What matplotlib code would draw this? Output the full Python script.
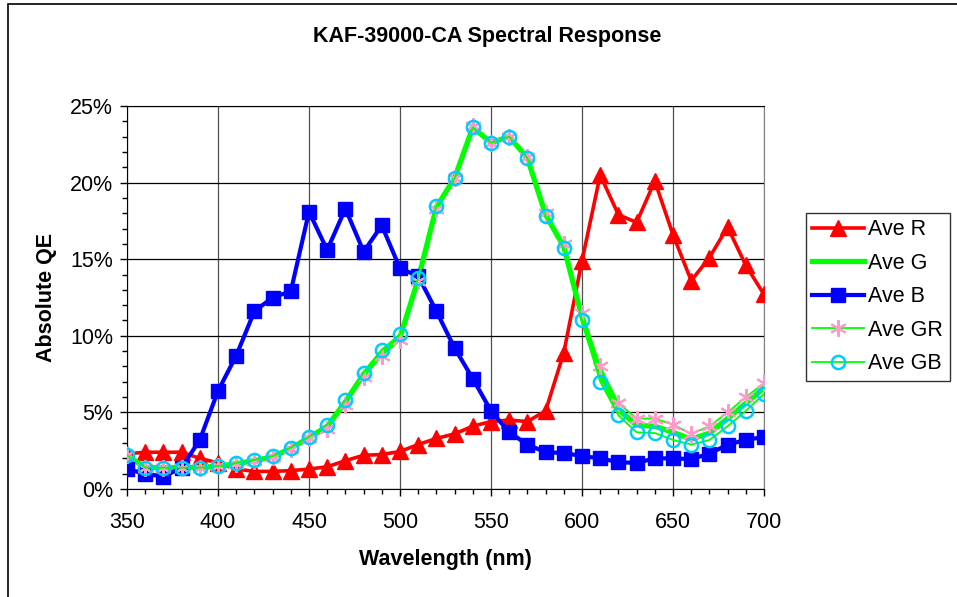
import matplotlib
matplotlib.use("Agg")
import matplotlib.pyplot as plt
from matplotlib.ticker import MultipleLocator, PercentFormatter
from matplotlib.patches import Rectangle

plt.rcParams['font.family'] = ['Liberation Sans', 'DejaVu Sans']

# wavelength grid (nm)
wavelength = list(range(350, 701, 10))

# absolute QE in percent
ave_r = [2.3, 2.4, 2.4, 2.4, 2.0, 1.7, 1.3, 1.15, 1.15, 1.2,
         1.3, 1.45, 1.85, 2.2, 2.25, 2.45, 2.9, 3.3, 3.6, 4.1,
         4.4, 4.5, 4.4, 5.1, 8.9, 14.9, 20.5, 17.9, 17.4, 20.1,
         16.6, 13.6, 15.1, 17.1, 14.6, 12.7]
ave_g = [2.2, 1.4, 1.4, 1.4, 1.4, 1.5, 1.65, 1.85, 2.1, 2.65,
         3.35, 4.1, 5.7, 7.5, 8.9, 9.9, 13.7, 18.4, 20.3, 23.6,
         22.6, 23.0, 21.6, 17.9, 15.8, 11.2, 7.5, 5.2, 4.15, 4.1,
         3.7, 3.25, 3.65, 4.6, 5.6, 6.6]
ave_b = [1.3, 1.0, 0.8, 1.4, 3.2, 6.4, 8.7, 11.6, 12.5, 12.9,
         18.1, 15.6, 18.3, 15.5, 17.2, 14.4, 13.9, 11.6, 9.2, 7.2,
         5.1, 3.7, 2.9, 2.4, 2.35, 2.15, 2.0, 1.75, 1.7, 2.0,
         2.0, 1.95, 2.3, 2.9, 3.2, 3.4]
ave_gr = [2.2, 1.4, 1.4, 1.4, 1.4, 1.5, 1.6, 1.8, 2.1, 2.6,
          3.3, 3.9, 5.5, 7.3, 8.7, 9.7, 13.6, 18.3, 20.3, 23.7,
          22.6, 23.0, 21.7, 18.0, 16.0, 11.5, 8.0, 5.6, 4.6, 4.6,
          4.2, 3.6, 4.1, 5.0, 6.0, 6.9]
ave_gb = [2.2, 1.4, 1.4, 1.4, 1.4, 1.5, 1.7, 1.9, 2.15, 2.7,
          3.4, 4.2, 5.8, 7.6, 9.1, 10.1, 13.8, 18.5, 20.3, 23.6,
          22.6, 23.0, 21.6, 17.8, 15.7, 11.0, 7.0, 4.8, 3.7, 3.65,
          3.2, 2.9, 3.2, 4.1, 5.1, 6.2]

FS = 15.5

fig = plt.figure(figsize=(9.57, 5.97), dpi=100)
ax = fig.add_axes([127 / 957, 1 - 489 / 597, 637 / 957, 383 / 597])

# outer chart frame
fig.patches.append(Rectangle((8 / 957, -0.1), 1.2, 1 - 4 / 597 + 0.1,
                             transform=fig.transFigure, fill=False,
                             edgecolor='black', linewidth=1.2))

ax.plot(wavelength, ave_r, color='#FF0000', lw=2.6, marker='^', ms=11,
        label='Ave R', zorder=3)
ax.plot(wavelength, ave_g, color='#00FF00', lw=3.8, label='Ave G', zorder=3)
ax.plot(wavelength, ave_b, color='#0000FF', lw=3.0, marker='s', ms=9.5,
        label='Ave B', zorder=3)
ax.plot(wavelength, ave_gr, color='#00FF00', lw=1.3, marker=(6, 2, 0), ms=12,
        mec='#FF99CC', mfc='#FF99CC', mew=1.5, label='Ave GR', zorder=4)
ax.plot(wavelength, ave_gb, color='#00FF00', lw=1.3, marker='o', ms=9.5,
        mec='#00CCFF', mfc='none', mew=1.8, label='Ave GB', zorder=4)

ax.set_xlim(350, 700)
ax.set_ylim(0, 25)
ax.xaxis.set_major_locator(MultipleLocator(50))
ax.xaxis.set_minor_locator(MultipleLocator(10))
ax.yaxis.set_major_locator(MultipleLocator(5))
ax.yaxis.set_minor_locator(MultipleLocator(1))
ax.yaxis.set_major_formatter(PercentFormatter(decimals=0))

ax.grid(True, which='major', axis='y', color='black', lw=0.9)
ax.grid(True, which='major', axis='x', color='#505050', lw=0.9)
ax.set_axisbelow(True)
for side in ['left', 'bottom', 'top']:
    ax.spines[side].set_color('black')
ax.spines['right'].set_color('#808080')

ax.tick_params(axis='both', which='major', labelsize=FS, direction='out',
               length=5, width=1)
ax.tick_params(axis='both', which='minor', direction='out', length=3.5, width=1)
ax.tick_params(axis='x', which='major', pad=11.5)
ax.tick_params(axis='y', which='major', pad=5)

ax.set_xlabel('Wavelength (nm)', fontsize=FS, fontweight='bold')
ax.xaxis.set_label_coords(0.5, -0.157)
ax.set_ylabel('Absolute QE', fontsize=FS, fontweight='bold')
ax.yaxis.set_label_coords(-0.11, 0.5)

fig.text(487.5 / 957, 1 - 42 / 597, 'KAF-39000-CA Spectral Response',
         ha='center', va='baseline', fontsize=FS, fontweight='bold')

leg = ax.legend(loc='upper left', bbox_to_anchor=(806 / 957, 1 - 213 / 597),
                bbox_transform=fig.transFigure, fontsize=FS, numpoints=1,
                handlelength=2.4, handletextpad=0.2, labelspacing=0.58,
                borderpad=0.3, borderaxespad=0, fancybox=False)
leg.get_frame().set_edgecolor('black')
leg.get_frame().set_linewidth(1.0)

fig.savefig('out.png', dpi=100)
